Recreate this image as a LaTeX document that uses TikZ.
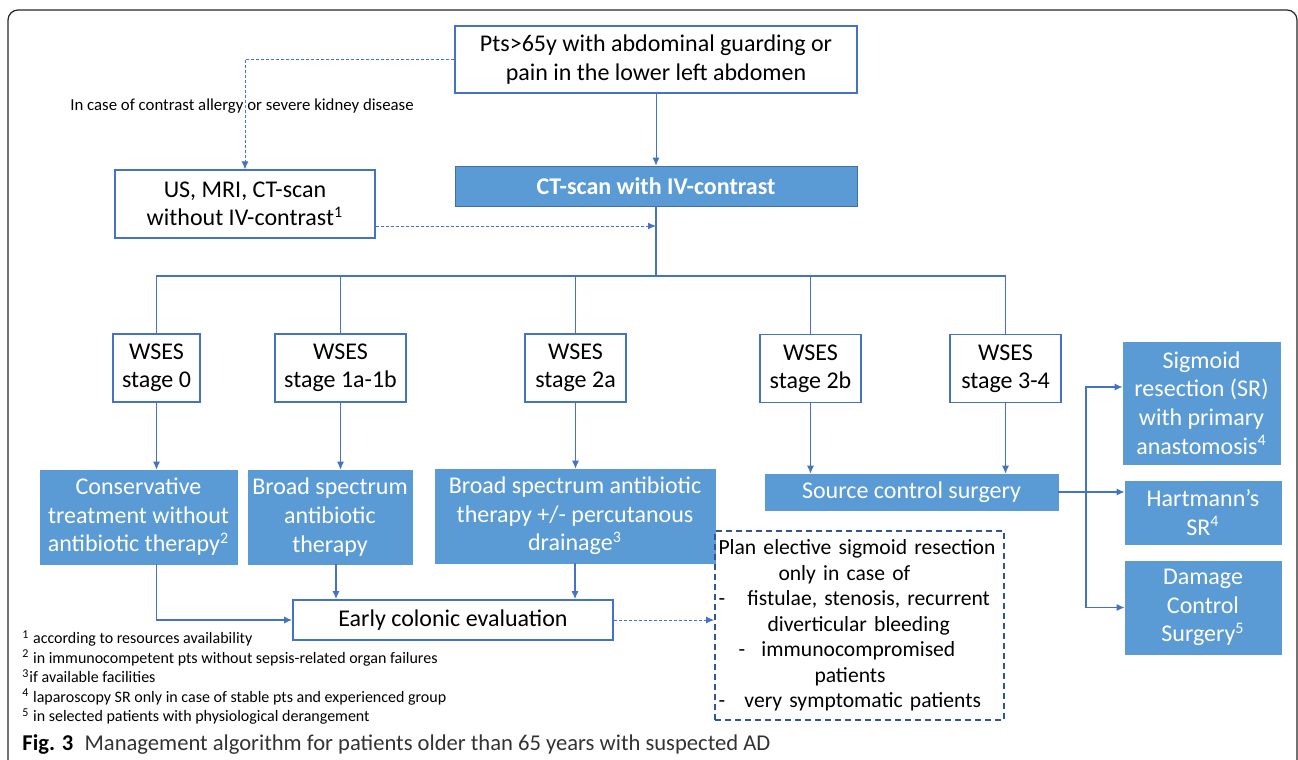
\documentclass[tikz,border=0pt]{standalone}
\usepackage{fontspec}
\setmainfont{Carlito}
\usepackage{tikz}
\usetikzlibrary{arrows.meta}
\definecolor{lineblue}{HTML}{4472C4}
\definecolor{fillblue}{HTML}{5B9BD5}
\definecolor{edgeblue}{HTML}{41719C}
\definecolor{darkblue}{HTML}{2F5597}

\begin{document}
\begin{tikzpicture}[x=0.5pt, y=-0.5pt,
    box/.style={draw=lineblue, line width=0.6pt, fill=white, align=center,
      inner sep=1pt, font=\fontsize{12}{14.2}\selectfont},
    bluebox/.style={draw=fillblue, fill=fillblue, text=white, align=center,
      inner sep=1pt, font=\fontsize{12}{14.3}\selectfont},
    link/.style={lineblue, line width=0.6pt},
    arr/.style={link, -{Latex[length=4pt, width=3.5pt]}},
    dotarr/.style={arr, line width=0.5pt, dash pattern=on 1.5pt off 1pt}]
    \useasboundingbox (0,0) rectangle (1298,760);
    \draw[black!85, line width=0.6pt, rounded corners=5pt]
      (8,760) -- (8,10) -- (1297,10) -- (1297,760);

    % entry and imaging
    \node[box, minimum width=201pt, minimum height=33.5pt] (pts) at (656,59.5)
      {Pts>65y with abdominal guarding or\\ pain in the lower left abdomen};
    \node[bluebox, draw=edgeblue, font=\fontsize{12}{14}\selectfont\bfseries,
      minimum width=201pt, minimum height=20pt] (ct) at (656,186) {CT-scan with IV-contrast};
    \node[box, minimum width=130pt, minimum height=34pt] (us) at (245,204)
      {US, MRI, CT-scan\\ without IV-contrast\textsuperscript{1}};
    \node[font=\fontsize{8.4}{10}\selectfont] (allergy) at (242,106)
      {In case of contrast allergy or severe kidney disease};

    % WSES stages
    \node[box, minimum width=43.5pt, minimum height=34pt] (s0) at (156.5,368) {WSES\\ stage 0};
    \node[box, minimum width=65.5pt, minimum height=34pt] (s1) at (340.5,368) {WSES\\ stage 1a-1b};
    \node[box, minimum width=50.5pt, minimum height=34pt] (s2a) at (575.5,368) {WSES\\ stage 2a};
    \node[box, minimum width=50.5pt, minimum height=34pt] (s2b) at (810.5,368.5) {WSES\\ stage 2b};
    \node[box, minimum width=55.5pt, minimum height=34pt] (s3) at (1005.5,368.5) {WSES\\ stage 3-4};

    % treatments
    \node[bluebox, minimum width=98.5pt, minimum height=47pt] (cons) at (138.5,517)
      {Conservative\\ treatment without\\ antibiotic therapy\textsuperscript{2}};
    \node[bluebox, minimum width=82pt, minimum height=47pt] (broad) at (330,517)
      {Broad spectrum\\ antibiotic\\ therapy};
    \node[bluebox, minimum width=140pt, minimum height=47pt] (drain) at (575,516)
      {Broad spectrum antibiotic\\ therapy +/- percutanous\\ drainage\textsuperscript{3}};
    \node[bluebox, minimum width=146.5pt, minimum height=18pt] (src) at (911.5,492)
      {Source control surgery};
    \node[bluebox, minimum width=78.5pt, minimum height=61pt] (sig) at (1201.5,403)
      {Sigmoid\\ resection (SR)\\ with primary\\ anastomosis\textsuperscript{4}};
    \node[bluebox, minimum width=78pt, minimum height=31.5pt] (hart) at (1203,512.5)
      {Hartmann’s\\ SR\textsuperscript{4}};
    \node[bluebox, minimum width=78pt, minimum height=46.5pt] (dcs) at (1203,607.5)
      {Damage\\ Control\\ Surgery\textsuperscript{5}};

    % follow-up
    \node[box, line width=0.9pt, minimum width=160pt, minimum height=20pt] (early) at (453,620)
      {Early colonic evaluation};
    \node[draw=darkblue, line width=0.8pt, dash pattern=on 3pt off 2pt,
      minimum width=144.5pt, minimum height=94.5pt, text width=141pt, align=left,
      inner sep=1.75pt, font=\fontsize{10.8}{12.75}\selectfont] (plan) at (859.5,625.5)
      {Plan elective sigmoid resection\\
       \hspace*{30pt}only in case of\\
       \makebox[14.5pt][l]{-}fistulae, stenosis, recurrent\\
       \hspace*{24.5pt}diverticular bleeding\\
       \hspace*{10pt}\makebox[11.5pt][l]{-}immunocompromised\\
       \hspace*{48pt}patients\\
       \makebox[13pt][l]{-}very symptomatic patients};

    \node[anchor=north west, align=left, inner sep=0pt,
      font=\fontsize{8}{9.75}\selectfont] (notes) at (22,630)
      {\textsuperscript{1} according to resources availability\\
       \textsuperscript{2} in immunocompetent pts without sepsis-related organ failures\\
       \textsuperscript{3}if available facilities\\
       \textsuperscript{4} laparoscopy SR only in case of stable pts and experienced group\\
       \textsuperscript{5} in selected patients with physiological derangement};
    \node[anchor=west, inner sep=0pt, text=black!80,
      font=\fontsize{11.3}{13}\selectfont] (caption) at (22,745)
      {\textcolor{black}{\bfseries Fig. 3}\enspace Management algorithm for patients older than 65 years with suspected AD};

    % connectors
    \coordinate (merge) at (656,226);
    \coordinate (hub) at (656,276);
    \coordinate (split) at (1086,492);
    \draw[dotarr] (pts.west) -| (us.north);
    \draw[dotarr] (us.east |- merge) -- (merge);
    \path[arr, thin] (pts) edge (ct);
    \draw[link] (ct) -- (hub);
    \draw[link] (s0) |- (hub) -| (s3);
    \draw[link] (s1) -- (s1 |- hub)
                (s2a) -- (s2a |- hub)
                (s2b) -- (s2b |- hub);
    \path[arr, line width=0.4pt]
    (s0)  edge (s0 |- cons.north)
    (s1)  edge (s1 |- broad.north)
    (s2a) edge (s2a |- drain.north)
    (s2b) edge (s2b |- src.north)
    (s3)  edge (s3 |- src.north);
    \draw[arr] (s0 |- cons.south) |- (early);
    \path[arr]
    ([xshift=3pt]broad.south) edge ([xshift=3pt]broad.south |- early.north)
    (drain) edge (drain |- early.north);
    \draw[dotarr] (early.east) -- (early.east -| plan.west);
    \draw[arr] (src) -- (src -| hart.west);
    \draw[arr] (split) |- ([yshift=8pt]sig.west);
    \draw[arr] (split) |- (dcs.west);
\end{tikzpicture}
\end{document}
